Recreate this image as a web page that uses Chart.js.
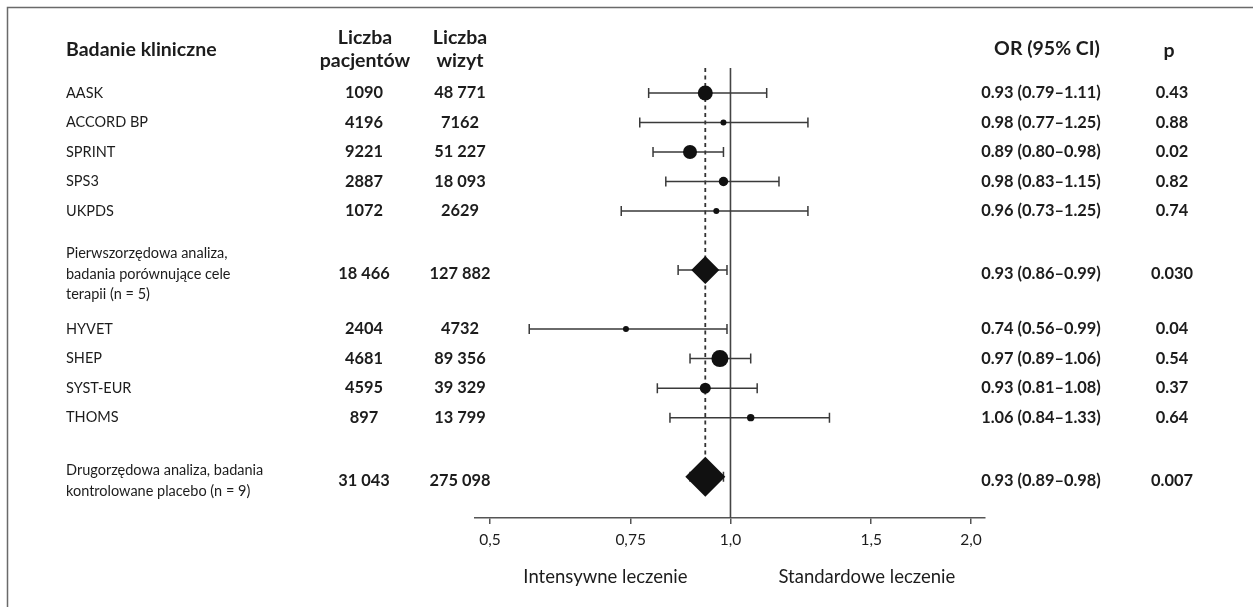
<!DOCTYPE html>
<html><head><meta charset="utf-8">
<script src="https://cdn.jsdelivr.net/npm/chart.js@4.4.1/dist/chart.umd.min.js"></script>
<style>html,body{margin:0;padding:0;background:#fff}canvas{display:block}</style>
</head><body>
<canvas id="c" width="1253" height="607"></canvas>
<script>
// ---- data ----
const studies = ['AASK','ACCORD BP','SPRINT','SPS3','UKPDS',
  'Pierwszorzędowa analiza,\nbadania porównujące cele\nterapii (n = 5)',
  'HYVET','SHEP','SYST-EUR','THOMS',
  'Drugorzędowa analiza, badania\nkontrolowane placebo (n = 9)'];
const isPooled = [false,false,false,false,false,true,false,false,false,false,true];
const patients = [1090,4196,9221,2887,1072,18466,2404,4681,4595,897,31043];
const visits   = [48771,7162,51227,18093,2629,127882,4732,89356,39329,13799,275098];
const oddsRatio = [0.93,0.98,0.89,0.98,0.96,0.93,0.74,0.97,0.93,1.06,0.93];
const ciLow     = [0.79,0.77,0.80,0.83,0.73,0.86,0.56,0.89,0.81,0.84,0.89];
const ciHigh    = [1.11,1.25,0.98,1.15,1.25,0.99,0.99,1.06,1.08,1.33,0.98];
const pValues   = ['0.43','0.88','0.02','0.82','0.74','0.030','0.04','0.54','0.37','0.64','0.007'];
const tickValues = [0.5,0.75,1.0,1.5,2.0];
const tickLabels = ['0,5','0,75','1,0','1,5','2,0'];
// marker sizes (study weight)
const markerRadius = [7.5,3,7,4.7,3,14,3,8.5,5.5,3.7,20];

// row order: pooled rows are set apart by one blank row before and after
const rows = [];
(function(){ let r = 0; studies.forEach((s,i)=>{ if (isPooled[i]) { r += 1; rows.push(r); r += 2; } else { rows.push(r); r += 1; } }); })();

const FONT = 'Lato';
const TXT = '#1c1c1c';
function fmtN(n){ const s = String(n); return n >= 10000 ? s.replace(/\B(?=(\d{3})+(?!\d))/g,' ') : s; }

const whiskers = {
  id:'whiskers',
  beforeDatasetsDraw(chart){
    const {ctx, chartArea:a, scales:{x,y}} = chart;
    ctx.save();
    ctx.strokeStyle = '#444'; ctx.lineWidth = 1.6;
    const x1 = x.getPixelForValue(1);
    ctx.beginPath(); ctx.moveTo(x1, a.top); ctx.lineTo(x1, a.bottom); ctx.stroke();
    const last = studies.length-1;
    const xd = x.getPixelForValue(oddsRatio[last]);
    ctx.setLineDash([4,3.5]);
    ctx.strokeStyle = '#333'; ctx.lineWidth = 1.8;
    ctx.beginPath(); ctx.moveTo(xd, a.top); ctx.lineTo(xd, y.getPixelForValue(rows[last]) - markerRadius[last]); ctx.stroke();
    ctx.setLineDash([]);
    ctx.strokeStyle = '#3a3a3a'; ctx.lineWidth = 1.5;
    studies.forEach((s,i)=>{
      const yy = y.getPixelForValue(rows[i]);
      const xl = x.getPixelForValue(ciLow[i]), xh = x.getPixelForValue(ciHigh[i]);
      ctx.beginPath();
      ctx.moveTo(xl, yy); ctx.lineTo(xh, yy);
      ctx.moveTo(xl, yy-5); ctx.lineTo(xl, yy+5);
      ctx.moveTo(xh, yy-5); ctx.lineTo(xh, yy+5);
      ctx.stroke();
    });
    ctx.restore();
  }
};

const table = {
  id:'table',
  afterDraw(chart){
    const {ctx, scales:{x,y}} = chart;
    ctx.save();
    ctx.strokeStyle = '#6a6a6a'; ctx.lineWidth = 1.5;
    ctx.beginPath(); ctx.moveTo(7.5, 607); ctx.lineTo(7.5, 7.5); ctx.lineTo(1253, 7.5); ctx.stroke();

    ctx.fillStyle = TXT; ctx.textBaseline = 'middle';
    ctx.font = `700 19.5px "${FONT}"`;
    ctx.textAlign = 'left';  ctx.fillText('Badanie kliniczne', 66, 50);
    ctx.textAlign = 'center';
    ctx.fillText('Liczba', 365, 38); ctx.fillText('pacjentów', 365, 61);
    ctx.fillText('Liczba', 460, 38); ctx.fillText('wizyt', 460, 61);
    ctx.fillText('OR (95% CI)', 1047, 49);
    ctx.fillText('p', 1169, 51);

    studies.forEach((s,i)=>{
      const lines = s.split('\n');
      const yc = y.getPixelForValue(rows[i]) + (isPooled[i] ? 4 : 0);
      ctx.font = `400 14.5px "${FONT}"`; ctx.textAlign = 'left';
      const lh = 20.5, y0 = yc - (lines.length-1)*lh/2;
      lines.forEach((t,k)=> ctx.fillText(t, 66, y0 + k*lh));
      ctx.font = `700 16.4px "${FONT}"`; ctx.textAlign = 'center';
      ctx.fillText(fmtN(patients[i]), 364, yc);
      ctx.fillText(fmtN(visits[i]), 460, yc);
      ctx.fillText(`${oddsRatio[i].toFixed(2)} (${ciLow[i].toFixed(2)}–${ciHigh[i].toFixed(2)})`, 1041, yc);
      ctx.fillText(pValues[i], 1172, yc);
    });

    const x1 = x.getPixelForValue(1);
    ctx.font = `400 18.5px "${FONT}"`;
    ctx.textAlign = 'right'; ctx.fillText('Intensywne leczenie', x1 - 43, 577);
    ctx.textAlign = 'left';  ctx.fillText('Standardowe leczenie', x1 + 48, 577);
    ctx.restore();
  }
};

const ptData = [], ptRadius = [], ptStyle = [];
studies.forEach((s,i)=>{ ptData.push({x: oddsRatio[i], y: rows[i]}); ptRadius.push(markerRadius[i]); ptStyle.push(isPooled[i] ? 'rectRot' : 'circle'); });

new Chart(document.getElementById('c'), {
  type:'scatter',
  data:{ datasets:[{
    data: ptData,
    pointRadius: ptRadius, pointHoverRadius: ptRadius,
    pointStyle: ptStyle,
    backgroundColor:'#111', borderColor:'#111', borderWidth:0
  }]},
  options:{
    responsive:false, animation:false, devicePixelRatio:1,
    layout:{ padding:{ left:475, right:268, top:68, bottom:49 } },
    plugins:{ legend:{display:false}, tooltip:{enabled:false} },
    scales:{
      x:{ type:'logarithmic', min:0.479, max:2.082, position:'bottom',
        afterBuildTicks: s => { s.ticks = tickValues.map(v=>({value:v})); },
        afterFit: s => { s.height = 40; },
        ticks:{ autoSkip:false, maxRotation:0, color:TXT, padding:7,
          font:{ family:FONT, size:15.5 },
          callback:(v,idx)=> tickLabels[idx] },
        grid:{ drawOnChartArea:false, drawTicks:true, tickLength:6, color:'#555', lineWidth:1.5 },
        border:{ display:true, color:'#555', width:1.5 }
      },
      y:{ type:'linear', reverse:true, min:-0.847, max:14.4, display:false }
    }
  },
  plugins:[whiskers, table]
});
</script>
</body></html>
